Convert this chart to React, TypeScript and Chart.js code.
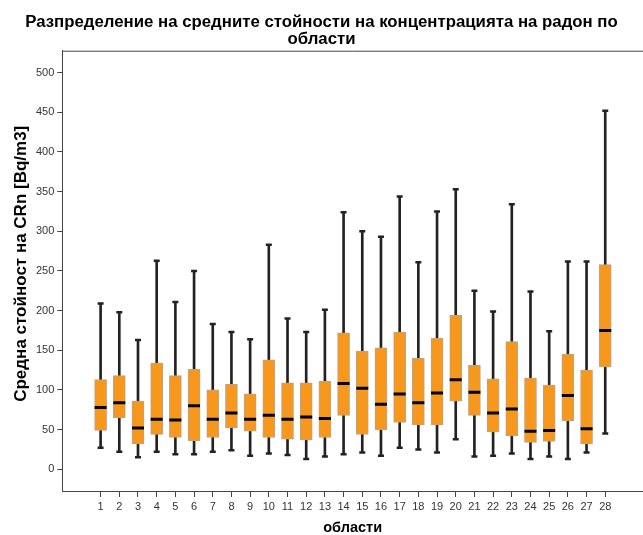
import React, { useEffect, useRef } from "react";
import { Chart, registerables } from "chart.js";

Chart.register(...registerables);

const categories: string[] = Array.from({ length: 28 }, (_, i) => String(i + 1));

const whiskerLow: number[] = [27, 22, 15, 22, 19, 19, 22, 24, 17, 20, 18, 13, 16, 19, 21, 17, 27, 25, 21, 38, 16, 17, 20, 13, 16, 13, 21, 45];
const q1: number[] = [49, 65, 32, 44, 40, 36, 40, 52, 48, 40, 38, 37, 40, 68, 44, 50, 59, 56, 56, 86, 68, 47, 42, 34, 35, 61, 32, 129];
const median: number[] = [78, 84, 52, 63, 62, 80, 63, 71, 63, 68, 63, 66, 64, 108, 102, 82, 95, 84, 96, 113, 97, 71, 76, 48, 49, 93, 51, 175];
const q3: number[] = [113, 118, 86, 134, 118, 126, 100, 107, 95, 138, 109, 109, 111, 172, 149, 153, 173, 140, 165, 194, 131, 114, 161, 115, 106, 145, 125, 258];
const whiskerHigh: number[] = [209, 198, 163, 263, 211, 250, 183, 173, 164, 283, 190, 173, 201, 324, 300, 293, 344, 261, 325, 353, 225, 199, 334, 224, 174, 262, 262, 452];

const yTicks: number[] = [0, 50, 100, 150, 200, 250, 300, 350, 400, 450, 500];

const titleLines: string[] = [
  "Разпределение на средните стойности на концентрацията на радон по",
  "области",
];
const yTitle = "   Средна стойност на CRn [Bq/m3]";
const xTitle = "области";

const FONT = "'Liberation Sans', Arial, sans-serif";

export default function App() {
  const canvasRef = useRef<HTMLCanvasElement | null>(null);

  useEffect(() => {
    const canvas = canvasRef.current;
    if (!canvas) return;

    const xs = categories.map((_, i) => i + 1);

    const frame = {
      id: "topFrame",
      afterDraw(chart: any) {
        const { ctx, chartArea } = chart;
        ctx.save();
        ctx.strokeStyle = "#444";
        ctx.lineWidth = 1;
        ctx.beginPath();
        ctx.moveTo(chartArea.left, chartArea.top + 0.5);
        ctx.lineTo(chartArea.right, chartArea.top + 0.5);
        ctx.stroke();
        ctx.restore();
      },
    };

    const chart = new Chart(canvas, {
      type: "bar",
      data: {
        datasets: [
          {
            type: "bar",
            label: "whisker",
            data: xs.map((x, i) => ({ x, y: [whiskerLow[i], whiskerHigh[i]] })) as any,
            backgroundColor: "#222",
            barThickness: 2,
            grouped: false,
            order: 3,
          } as any,
          {
            type: "bar",
            label: "box",
            data: xs.map((x, i) => ({ x, y: [q1[i], q3[i]] })) as any,
            backgroundColor: "#f7981d",
            borderColor: "#b8a48c",
            borderWidth: 1,
            borderSkipped: false,
            barThickness: 12,
            grouped: false,
            order: 2,
          } as any,
          {
            type: "line",
            label: "median",
            data: xs.map((x, i) => ({ x, y: median[i] })),
            showLine: false,
            pointStyle: "line",
            pointRadius: 6,
            pointBorderWidth: 3,
            pointBorderColor: "#000",
            pointBackgroundColor: "#000",
            order: 1,
          } as any,
          {
            type: "line",
            label: "caps",
            data: [
              ...xs.map((x, i) => ({ x, y: whiskerLow[i] })),
              ...xs.map((x, i) => ({ x, y: whiskerHigh[i] })),
            ],
            showLine: false,
            pointStyle: "line",
            pointRadius: 3,
            pointBorderWidth: 2.5,
            pointBorderColor: "#222",
            pointBackgroundColor: "#222",
            order: 1,
          } as any,
        ],
      },
      options: {
        animation: false,
        responsive: false,
        maintainAspectRatio: false,
        events: [],
        layout: { autoPadding: false, padding: { left: 0, right: 0, top: 0, bottom: 0 } },
        plugins: {
          legend: { display: false },
          tooltip: { enabled: false },
          title: {
            display: true,
            text: titleLines,
            color: "#000",
            font: { family: FONT, size: 16.8, weight: "bold", lineHeight: 1.0 },
            padding: { top: 14, bottom: 3.1 },
          },
        },
        scales: {
          x: {
            type: "linear",
            offset: false,
            min: -1.05,
            max: 30.02,
            afterFit(scale: any) {
              scale.height = 44;
              scale.paddingLeft = 0;
              scale.paddingRight = 0;
            },
            afterBuildTicks(scale: any) {
              scale.ticks = xs.map((v) => ({ value: v }));
            },
            grid: {
              display: true,
              offset: false,
              drawOnChartArea: false,
              drawTicks: true,
              tickLength: 6,
              color: "#444",
            },
            border: { display: true, color: "#444", width: 1 },
            ticks: {
              autoSkip: false,
              maxRotation: 0,
              padding: 3,
              color: "#333",
              font: { family: FONT, size: 11 },
              callback: (v: any) => categories[Number(v) - 1] ?? "",
            },
            title: {
              display: true,
              text: xTitle,
              color: "#000",
              font: { family: FONT, size: 14.5, weight: "bold", lineHeight: 1 },
              padding: { top: 0, bottom: 0 },
            },
          },
          y: {
            type: "linear",
            min: -27.4,
            max: 527.7,
            afterFit(scale: any) {
              scale.width = 62.3;
              scale.paddingTop = 0;
              scale.paddingBottom = 0;
            },
            afterBuildTicks(scale: any) {
              scale.ticks = yTicks.map((v) => ({ value: v }));
            },
            grid: {
              display: true,
              drawOnChartArea: false,
              drawTicks: true,
              tickLength: 5,
              color: "#444",
            },
            border: { display: true, color: "#444", width: 1 },
            ticks: {
              padding: 3,
              color: "#333",
              font: { family: FONT, size: 11 },
              callback: (v: any) => String(v),
            },
            title: {
              display: true,
              text: yTitle,
              color: "#000",
              font: { family: FONT, size: 17, weight: "bold", lineHeight: 1.2 },
              padding: { top: 11.5, bottom: 0 },
            },
          },
        },
      } as any,
      plugins: [frame],
    });

    return () => {
      chart.destroy();
    };
  }, []);

  return (
    <div style={{ position: "fixed", left: 0, top: 0, width: 643, height: 535, background: "#fff" }}>
      <canvas ref={canvasRef} width={643} height={535} style={{ width: 643, height: 535, display: "block" }} />
    </div>
  );
}
